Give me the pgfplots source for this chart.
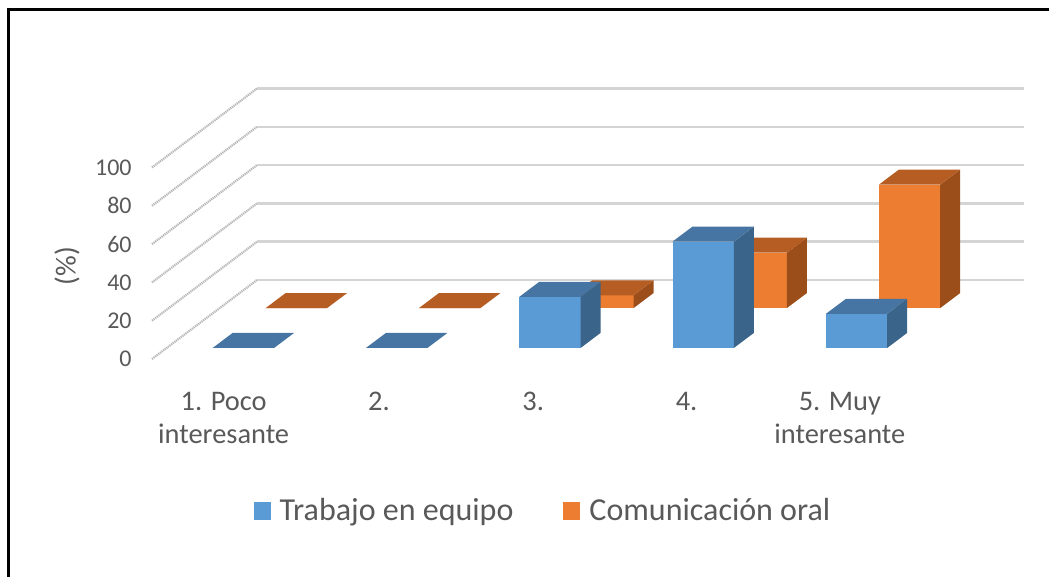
\documentclass[border=0pt]{standalone}
\usepackage{fontspec}
\setmainfont{Carlito}
\usepackage{pgfplots}
\pgfplotsset{compat=1.18}
\definecolor{bfront}{HTML}{5B9BD5}
\definecolor{btop}{HTML}{4675A3}
\definecolor{bside}{HTML}{3A6489}
\definecolor{ofront}{HTML}{ED7D31}
\definecolor{otop}{HTML}{B55D22}
\definecolor{oside}{HTML}{9B4E1A}
\definecolor{txt}{HTML}{595959}
\definecolor{gridc}{HTML}{D4D4D4}
\definecolor{sidec}{HTML}{B8B8B8}
% cuboid: x0, x1, y0, y1, height, front, top, side
\newcommand{\cuboid}[8]{%
  \addplot3[fill=#6, draw=none, forget plot] coordinates {(#1,#3,0) (#2,#3,0) (#2,#3,#5) (#1,#3,#5)} -- cycle;
  \addplot3[fill=#8, draw=none, forget plot] coordinates {(#2,#3,0) (#2,#4,0) (#2,#4,#5) (#2,#3,#5)} -- cycle;
  \addplot3[fill=#7, draw=none, forget plot] coordinates {(#1,#3,#5) (#2,#3,#5) (#2,#4,#5) (#1,#4,#5)} -- cycle;
}
\begin{document}
\begin{tikzpicture}
\useasboundingbox (0,0) rectangle (524.5pt,288.5pt);
\begin{axis}[
  x={(76.65pt,0pt)}, y={(52.5pt,39.5pt)}, z={(0pt,0.9575pt)},
  xmin=0, xmax=5, ymin=0, ymax=1, zmin=0, zmax=100,
  hide axis, clip=false,
  at={(76pt,109pt)}, anchor=origin,
  legend style={at={(axis cs:2.557,0,-79.4)}, anchor=center, draw=none, fill=none,
    font=\fontsize{16}{19}\selectfont, text=txt, legend columns=-1,
    /tikz/every odd column/.append style={column sep=2.5pt},
    /tikz/every even column/.append style={column sep=23pt}},
  legend image code/.code={\fill[#1, draw=none] (0pt,-4.4pt) rectangle (8.5pt,4.6pt);},
]
% side wall lines and back wall gridlines
\foreach \z in {0,20,40,60,80,100}{
  \edef\tmp{\noexpand\addplot3[color=sidec, line width=1.1pt, dash pattern=on 0.6pt off 0.4pt, forget plot] coordinates {(0,0,\z) (0,1,\z)};}\tmp
  \edef\tmp{\noexpand\addplot3[color=gridc, line width=1.2pt, forget plot] coordinates {(0,1,\z) (5,1,\z)};}\tmp
}
% Comunicacion oral (back row)
\cuboid{0.3}{0.7}{0.645}{0.835}{0}{ofront}{otop}{oside}
\cuboid{1.3}{1.7}{0.645}{0.835}{0}{ofront}{otop}{oside}
\cuboid{2.3}{2.7}{0.645}{0.835}{6.67}{ofront}{otop}{oside}
\cuboid{3.3}{3.7}{0.645}{0.835}{28.89}{ofront}{otop}{oside}
\cuboid{4.3}{4.7}{0.645}{0.835}{64.44}{ofront}{otop}{oside}
% Trabajo en equipo (front row)
\cuboid{0.3}{0.7}{0.14}{0.33}{0}{bfront}{btop}{bside}
\cuboid{1.3}{1.7}{0.14}{0.33}{0}{bfront}{btop}{bside}
\cuboid{2.3}{2.7}{0.14}{0.33}{26.67}{bfront}{btop}{bside}
\cuboid{3.3}{3.7}{0.14}{0.33}{55.56}{bfront}{btop}{bside}
\cuboid{4.3}{4.7}{0.14}{0.33}{17.78}{bfront}{btop}{bside}
\addlegendimage{fill=bfront, draw=none}
\addlegendentry{Trabajo en equipo}
\addlegendimage{fill=ofront, draw=none}
\addlegendentry{Comunicación oral}
% z tick labels
\foreach \z in {0,20,40,60,80,100}{
  \edef\tmp{\noexpand\node[anchor=east, text=txt, font=\noexpand\fontsize{12}{14}\noexpand\selectfont, inner sep=0pt] at (axis cs:0,0,\z) [xshift=-10pt] {\z};}\tmp
}
% x tick labels
\node[anchor=base, align=center, text=txt, font=\fontsize{14.2}{16.3}\selectfont, inner sep=0pt] at (axis cs:0.5,0,0) [xshift=-2.5pt, yshift=-42.2pt] {1. Poco\\interesante};
\node[anchor=base, align=center, text=txt, font=\fontsize{14.2}{16.3}\selectfont, inner sep=0pt] at (axis cs:1.5,0,0) [xshift=-1.5pt, yshift=-25.9pt] {2.};
\node[anchor=base, align=center, text=txt, font=\fontsize{14.2}{16.3}\selectfont, inner sep=0pt] at (axis cs:2.5,0,0) [xshift=-1pt, yshift=-25.9pt] {3.};
\node[anchor=base, align=center, text=txt, font=\fontsize{14.2}{16.3}\selectfont, inner sep=0pt] at (axis cs:3.5,0,0) [xshift=-1pt, yshift=-25.9pt] {4.};
\node[anchor=base, align=center, text=txt, font=\fontsize{14.2}{16.3}\selectfont, inner sep=0pt] at (axis cs:4.5,0,0) [xshift=-1pt, yshift=-42.2pt] {5. Muy\\interesante};
\end{axis}
\node[rotate=90, text=txt, font=\fontsize{14.5}{17}\selectfont] at (33.5pt,155.5pt) {(\%)};
\draw[line width=1.5pt, color=black] (4pt,0pt) -- (4pt,283.75pt) -- (524.5pt,283.75pt);
\end{tikzpicture}
\end{document}
